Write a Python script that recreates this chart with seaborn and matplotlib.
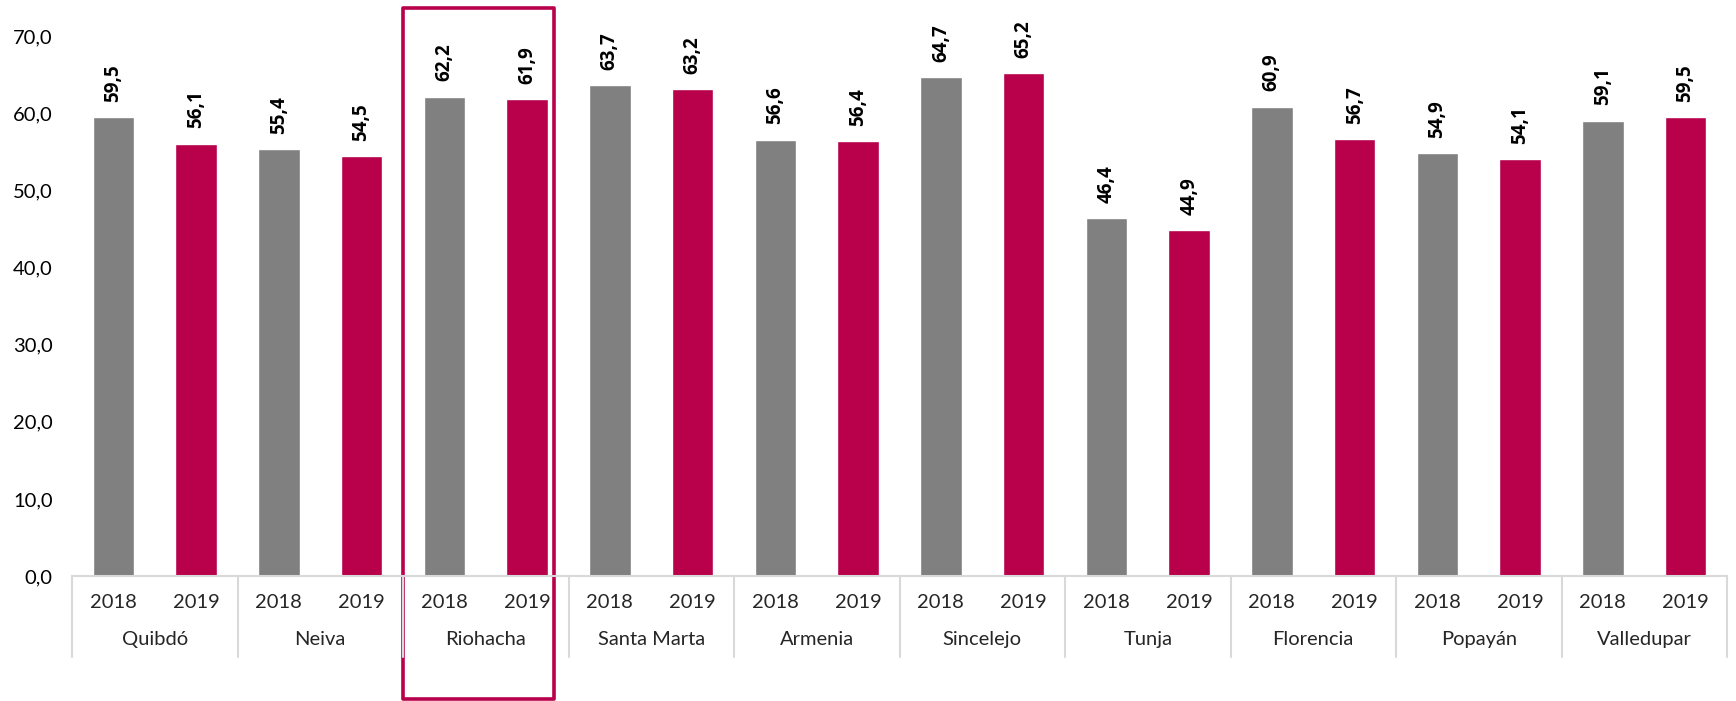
import matplotlib
matplotlib.use("Agg")
import matplotlib.pyplot as plt
import matplotlib.transforms as mtransforms
from matplotlib.patches import Rectangle
from matplotlib.ticker import FuncFormatter, MultipleLocator
import seaborn as sns
import pandas as pd

cities = ["Quibdó", "Neiva", "Riohacha", "Santa Marta", "Armenia",
          "Sincelejo", "Tunja", "Florencia", "Popayán", "Valledupar"]
years = ["2018", "2019"]
values_2018 = [59.5, 55.4, 62.2, 63.7, 56.6, 64.7, 46.4, 60.9, 54.9, 59.1]
values_2019 = [56.1, 54.5, 61.9, 63.2, 56.4, 65.2, 44.9, 56.7, 54.1, 59.5]
highlight_city = "Riohacha"

GRAY = "#808080"
CRIMSON = "#B8004B"
LINE = "#D9D9D9"

df = pd.DataFrame({
    "city": cities * 2,
    "year": [years[0]] * len(cities) + [years[1]] * len(cities),
    "value": values_2018 + values_2019,
})

sns.set_theme(style="white")
plt.rcParams["font.family"] = ["Lato", "DejaVu Sans"]

fig = plt.figure(figsize=(17.36, 7.01), dpi=100)
ax = fig.add_axes([72 / 1736, 1 - 576 / 701, (1727 - 72) / 1736, (576 - 36.5) / 701])

sns.barplot(data=df, x="city", y="value", hue="year", order=cities,
            hue_order=years, palette=[GRAY, CRIMSON], width=1.0, gap=0.5,
            ax=ax, legend=False, saturation=1, errorbar=None)

ax.set_ylim(0, 70)
ax.set_xlim(-0.5, len(cities) - 0.5)
ax.yaxis.set_major_locator(MultipleLocator(10))
ax.yaxis.set_major_formatter(FuncFormatter(lambda v, p: f"{v:.1f}".replace(".", ",")))
ax.tick_params(axis="y", length=0, labelsize=14.5, colors="#000000", pad=14)
ax.set_xticks([])
ax.set_xlabel("")
ax.set_ylabel("")
for s in ["left", "top", "right"]:
    ax.spines[s].set_visible(False)
ax.spines["bottom"].set_color(LINE)
ax.spines["bottom"].set_linewidth(1.5)

# data labels
for container in ax.containers:
    labels = [f"{b.get_height():.1f}".replace(".", ",") for b in container]
    ax.bar_label(container, labels=labels, rotation=90, padding=11,
                 fontsize=13.5, fontweight="bold", fontstyle="normal",
                 family=["Open Sans", "DejaVu Sans"], color="#000000")

# hierarchical x labels
trans = mtransforms.blended_transform_factory(ax.transData, ax.transAxes)
for i, c in enumerate(cities):
    ax.text(i - 0.25, -0.05, years[0], transform=trans, ha="center", va="center", fontsize=14.5)
    ax.text(i + 0.25, -0.05, years[1], transform=trans, ha="center", va="center", fontsize=14.5)
    ax.text(i, -0.117, c, transform=trans, ha="center", va="center", fontsize=14.5)
for k in range(len(cities) + 1):
    ax.plot([k - 0.5, k - 0.5], [0, -0.15], transform=trans, color=LINE,
            lw=1.5, clip_on=False)

# highlight box
hi = cities.index(highlight_city)
trans_box = mtransforms.blended_transform_factory(ax.transData, fig.transFigure)
rect = Rectangle((hi - 0.5, 2.5 / 701), 0.91, (701 - 2.5 - 8) / 701,
                 transform=trans_box, fill=False, edgecolor=CRIMSON,
                 linewidth=2.6, clip_on=False, joinstyle="round")
ax.add_patch(rect)

fig.savefig("out.png", dpi=100)
